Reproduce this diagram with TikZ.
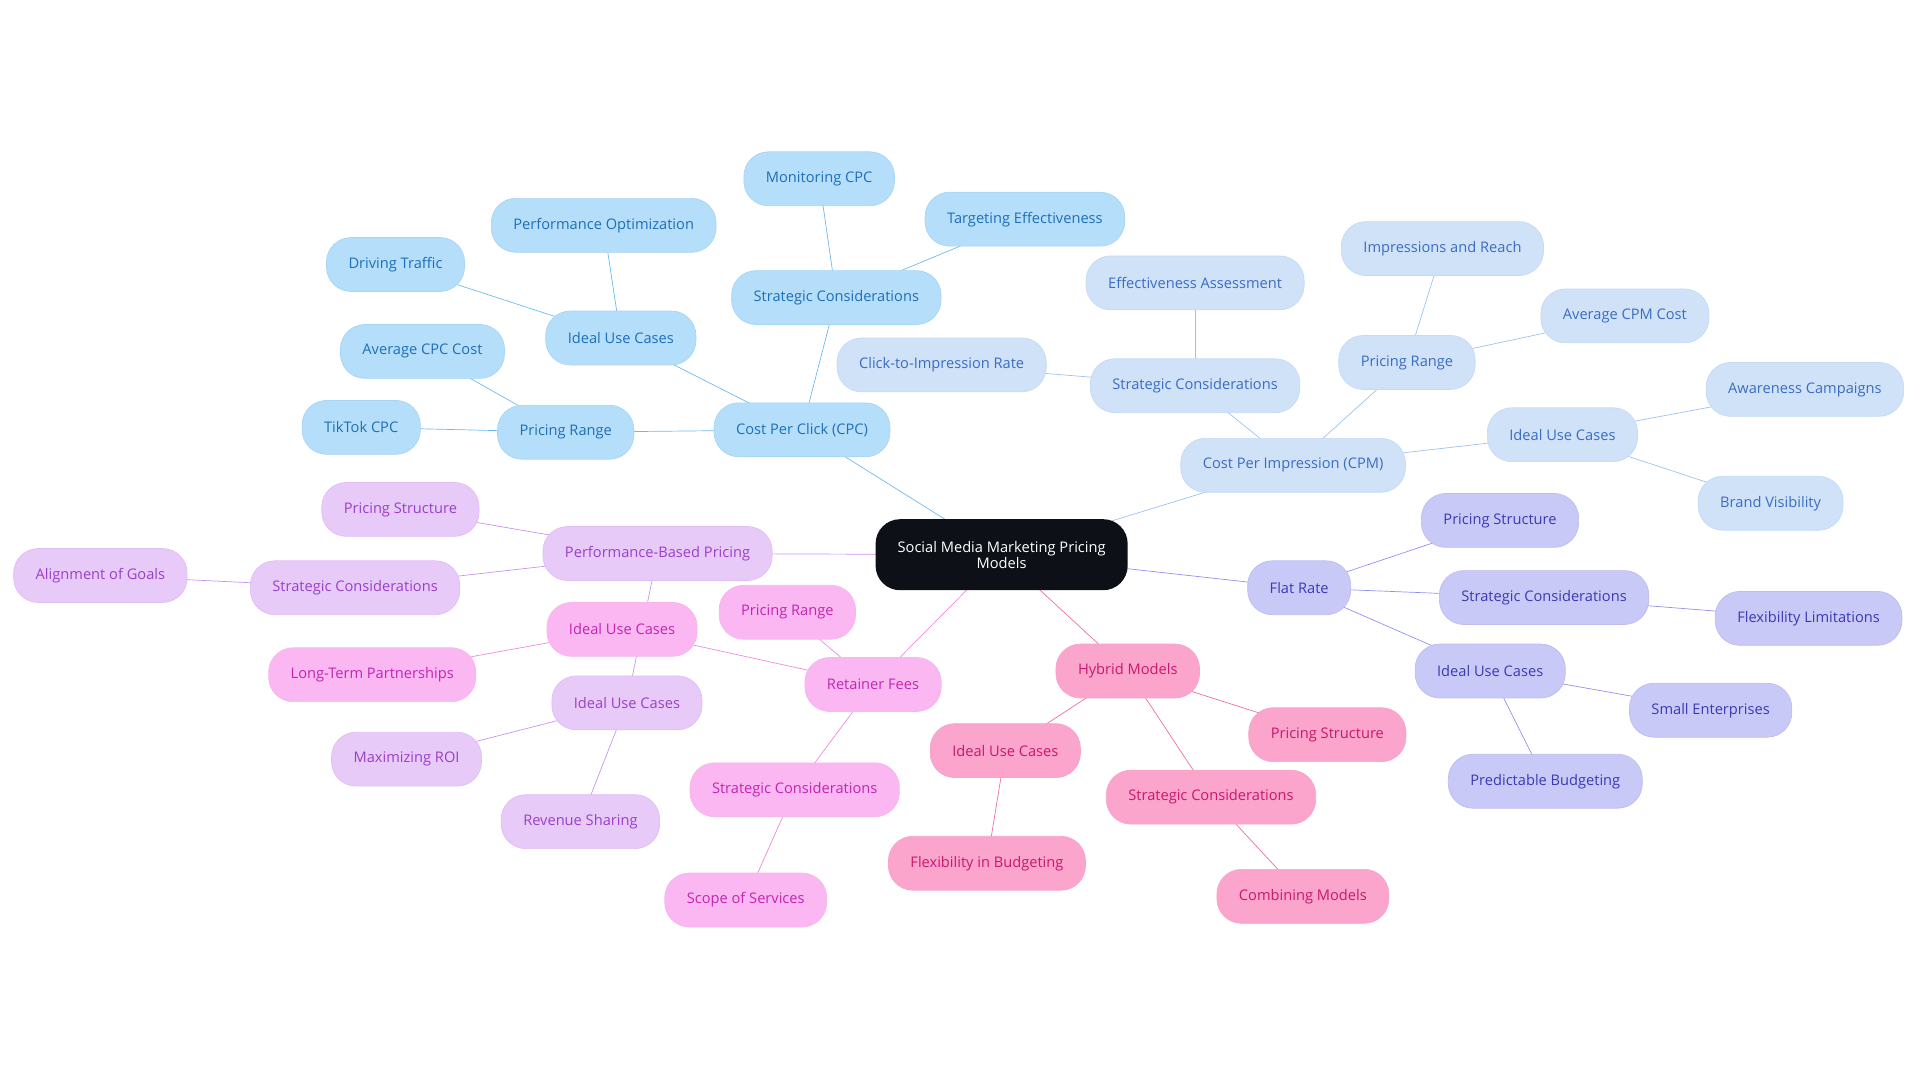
\documentclass[tikz,border=0pt]{standalone}
\usepackage{fontspec}
\setmainfont{Open Sans}
\usetikzlibrary{backgrounds}
\definecolor{cpcfill}{HTML}{B5DEFA}\definecolor{cpctext}{HTML}{1D6FB8}\definecolor{cpcline}{HTML}{6DB9EC}
\definecolor{cpmfill}{HTML}{D0E2F8}\definecolor{cpmtext}{HTML}{3B6CC2}\definecolor{cpmline}{HTML}{9CC1EE}
\definecolor{flatfill}{HTML}{C9C9F8}\definecolor{flattext}{HTML}{3A3AB2}\definecolor{flatline}{HTML}{9090EA}
\definecolor{hybfill}{HTML}{FBA4CC}\definecolor{hybtext}{HTML}{C8186E}\definecolor{hybline}{HTML}{EE6BA7}
\definecolor{retfill}{HTML}{FAB7F2}\definecolor{rettext}{HTML}{C226B0}\definecolor{retline}{HTML}{EE88DE}
\definecolor{perffill}{HTML}{E7CAF8}\definecolor{perftext}{HTML}{9A40C8}\definecolor{perfline}{HTML}{C992EE}
\definecolor{rootfill}{HTML}{0D1117}
\tikzset{
  pill/.style={rectangle, rounded corners=0.5cm, minimum height=1.1cm, inner xsep=0.45cm, font=\fontsize{8.5}{10}\selectfont},
  cpc/.style={pill, fill=cpcfill, draw=cpcline!60, text=cpctext},
  cpm/.style={pill, fill=cpmfill, draw=cpmline!60, text=cpmtext},
  flat/.style={pill, fill=flatfill, draw=flatline!60, text=flattext},
  hyb/.style={pill, fill=hybfill, draw=hybline!60, text=hybtext},
  ret/.style={pill, fill=retfill, draw=retline!60, text=rettext},
  perf/.style={pill, fill=perffill, draw=perfline!60, text=perftext},
  link/.style={line width=0.9pt}
}
\begin{document}
\begin{tikzpicture}[x=0.025cm, y=-0.025cm]
        \useasboundingbox (0,0) rectangle (1568,884);
        \node [pill, fill=rootfill, text=white, minimum height=1.45cm, align=center, font=\fontsize{8.5}{9.5}\selectfont] (root) at (818,453) {Social Media Marketing Pricing\\Models};

        % CPC branch
        \node [cpc] (cpc) at (655,351) {Cost Per Click (CPC)};
        \node [cpc] (cpcideal) at (507,276) {Ideal Use Cases};
        \node [cpc] (perfopt) at (493,184) {Performance Optimization};
        \node [cpc] (traffic) at (323,216) {Driving Traffic};
        \node [cpc] (cpcprice) at (462,353) {Pricing Range};
        \node [cpc] (avgcpc) at (345,287) {Average CPC Cost};
        \node [cpc] (tiktok) at (295,349) {TikTok CPC};
        \node [cpc] (cpcstrat) at (683,243) {Strategic Considerations};
        \node [cpc] (monitor) at (669,146) {Monitoring CPC};
        \node [cpc] (target) at (837,179) {Targeting Effectiveness};

        % CPM branch
        \node [cpm] (cpm) at (1056,380) {Cost Per Impression (CPM)};
        \node [cpm] (cpmstrat) at (976,315) {Strategic Considerations};
        \node [cpm] (ctr) at (769,298) {Click-to-Impression Rate};
        \node [cpm] (effect) at (976,231) {Effectiveness Assessment};
        \node [cpm] (cpmprice) at (1149,296) {Pricing Range};
        \node [cpm] (reach) at (1178,203) {Impressions and Reach};
        \node [cpm] (avgcpm) at (1327,258) {Average CPM Cost};
        \node [cpm] (cpmideal) at (1276,355) {Ideal Use Cases};
        \node [cpm] (aware) at (1474,318) {Awareness Campaigns};
        \node [cpm] (brand) at (1446,411) {Brand Visibility};

        % Flat rate branch
        \node [flat] (flatrate) at (1061,480) {Flat Rate};
        \node [flat] (flatprice) at (1225,425) {Pricing Structure};
        \node [flat] (flatstrat) at (1261,488) {Strategic Considerations};
        \node [flat] (flexlim) at (1477,505) {Flexibility Limitations};
        \node [flat] (flatideal) at (1217,548) {Ideal Use Cases};
        \node [flat] (small) at (1397,580) {Small Enterprises};
        \node [flat] (predict) at (1262,638) {Predictable Budgeting};

        % Hybrid branch
        \node [hyb] (hybrid) at (921,548) {Hybrid Models};
        \node [hyb] (hybprice) at (1084,600) {Pricing Structure};
        \node [hyb] (hybstrat) at (989,651) {Strategic Considerations};
        \node [hyb] (combine) at (1064,732) {Combining Models};
        \node [hyb] (hybideal) at (821,613) {Ideal Use Cases};
        \node [hyb] (flexbud) at (806,705) {Flexibility in Budgeting};

        % Retainer branch
        \node [ret] (retainer) at (713,559) {Retainer Fees};
        \node [ret] (retprice) at (643,500) {Pricing Range};
        \node [ret] (retideal) at (508,514) {Ideal Use Cases};
        \node [ret] (longterm) at (304,551) {Long-Term Partnerships};
        \node [ret] (retstrat) at (649,645) {Strategic Considerations};
        \node [ret] (scope) at (609,735) {Scope of Services};

        % Performance branch
        \node [perf] (perfbased) at (537,452) {Performance-Based Pricing};
        \node [perf] (perfprice) at (327,416) {Pricing Structure};
        \node [perf] (perfstrat) at (290,480) {Strategic Considerations};
        \node [perf] (align) at (82,470) {Alignment of Goals};
        \node [perf] (perfideal) at (512,574) {Ideal Use Cases};
        \node [perf] (roi) at (332,620) {Maximizing ROI};
        \node [perf] (revenue) at (474,671) {Revenue Sharing};

        \begin{scope}[on background layer, link]
            \foreach \a/\b in {root/cpc, cpc/cpcideal, cpcideal/perfopt, cpcideal/traffic, cpc/cpcprice, cpcprice/avgcpc, cpcprice/tiktok, cpc/cpcstrat, cpcstrat/monitor, cpcstrat/target}
                \draw[cpcline] (\a.center) -- (\b.center);
            \foreach \a/\b in {root/cpm, cpm/cpmstrat, cpmstrat/ctr, cpmstrat/effect, cpm/cpmprice, cpmprice/reach, cpmprice/avgcpm, cpm/cpmideal, cpmideal/aware, cpmideal/brand}
                \draw[cpmline] (\a.center) -- (\b.center);
            \foreach \a/\b in {root/flatrate, flatrate/flatprice, flatrate/flatstrat, flatstrat/flexlim, flatrate/flatideal, flatideal/small, flatideal/predict}
                \draw[flatline] (\a.center) -- (\b.center);
            \foreach \a/\b in {root/hybrid, hybrid/hybprice, hybrid/hybstrat, hybstrat/combine, hybrid/hybideal, hybideal/flexbud}
                \draw[hybline] (\a.center) -- (\b.center);
            \foreach \a/\b in {root/retainer, retainer/retprice, retainer/retideal, retideal/longterm, retainer/retstrat, retstrat/scope}
                \draw[retline] (\a.center) -- (\b.center);
            \foreach \a/\b in {root/perfbased, perfbased/perfprice, perfbased/perfstrat, perfstrat/align, perfbased/perfideal, perfideal/roi, perfideal/revenue}
                \draw[perfline] (\a.center) -- (\b.center);
        \end{scope}
\end{tikzpicture}
\end{document}
